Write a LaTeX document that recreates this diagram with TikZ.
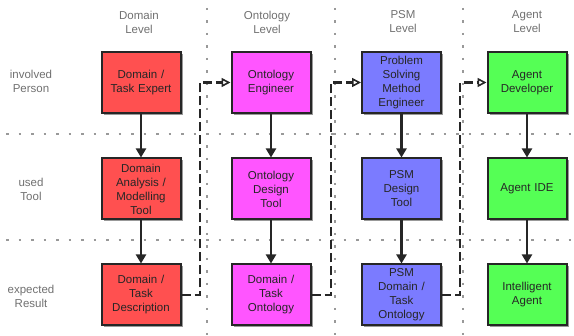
\documentclass[tikz,border=0pt]{standalone}
\usepackage{fontspec}
\setmainfont{Liberation Sans}
\usetikzlibrary{arrows.meta,shadows}
\definecolor{domred}{HTML}{FF5050}
\definecolor{ontmag}{HTML}{FF55FF}
\definecolor{psmblue}{HTML}{7B7BFF}
\definecolor{agtgreen}{HTML}{55FF55}
\definecolor{labelgray}{HTML}{707070}
\definecolor{gridgray}{HTML}{999999}
\begin{document}
\begin{tikzpicture}[x=1pt,y=-1pt,
  font=\fontsize{11.5}{14}\selectfont,
  stagebox/.style={draw=black!85, line width=2pt, minimum width=79pt, minimum height=61pt,
    inner sep=1pt, align=center, text width=76pt, text=black!85,
    drop shadow={shadow xshift=2pt, shadow yshift=-2pt, fill=black!40, opacity=1}},
  headtext/.style={text=labelgray, align=center},
  gridline/.style={gridgray, line width=1.6pt, dash pattern=on 2.5pt off 10pt},
  flow/.style={black!85, line width=2.5pt, -{Triangle[width=10pt,length=9pt]}},
  feedback/.style={black!85, line width=2.4pt, dash pattern=on 9pt off 4pt,
    -{Triangle[open,width=9pt,length=9pt,line width=1.6pt]}}
]
\useasboundingbox (0,0) rectangle (574,336);

% separating grid
\draw[gridline] (207,8) -- (207,336);
\draw[gridline] (335,8) -- (335,336);
\draw[gridline] (463,8) -- (463,336);
\draw[gridline] (6,134) -- (574,134);
\draw[gridline] (6,240) -- (574,240);

% column headings
\node[headtext] (hdom) at (139,22) {Domain\\Level};
\node[headtext] (hont) at (267,22) {Ontology\\Level};
\node[headtext] (hpsm) at (403,22) {PSM\\Level};
\node[headtext] (hagt) at (527,22) {Agent\\Level};

% row headings
\node[headtext] (rperson) at (31,81) {involved\\Person};
\node[headtext] (rtool) at (31,189) {used\\Tool};
\node[headtext] (rresult) at (31,296) {expected\\Result};

% domain level
\node[stagebox, fill=domred] (d1) at (141,82.5) {Domain /\\Task Expert};
\node[stagebox, fill=domred] (d2) at (141,189) {Domain\\Analysis /\\Modelling\\Tool};
\node[stagebox, fill=domred] (d3) at (141,295) {Domain /\\Task\\Description};

% ontology level
\node[stagebox, fill=ontmag] (o1) at (271,82.5) {Ontology\\Engineer};
\node[stagebox, fill=ontmag] (o2) at (271,189) {Ontology\\Design\\Tool};
\node[stagebox, fill=ontmag] (o3) at (271,295) {Domain /\\Task\\Ontology};

% PSM level
\node[stagebox, fill=psmblue] (p1) at (401.5,82.5) {Problem\\Solving\\Method\\Engineer};
\node[stagebox, fill=psmblue] (p2) at (401.5,189) {PSM\\Design\\Tool};
\node[stagebox, fill=psmblue] (p3) at (401.5,295) {PSM\\Domain /\\Task\\Ontology};

% agent level
\node[stagebox, fill=agtgreen] (a1) at (527,82.5) {Agent\\Developer};
\node[stagebox, fill=agtgreen] (a2) at (527,189) {Agent IDE};
\node[stagebox, fill=agtgreen] (a3) at (527,295) {Intelligent\\Agent};

% person -> tool -> result
\foreach \c in {d,o,p,a}{
  \draw[flow] (\c1.south) -- (\c2.north);
  \draw[flow] (\c2.south) -- (\c3.north);
}

% results handed on to the next level
\coordinate (k1) at (200,295);
\coordinate (k2) at (331,295);
\coordinate (k3) at (460,295);
\draw[feedback] (d3.east) -- (k1) |- (o1.west);
\draw[feedback] (o3.east) -- (k2) |- (p1.west);
\draw[feedback] (p3.east) -- (k3) |- (a1.west);
\end{tikzpicture}
\end{document}
